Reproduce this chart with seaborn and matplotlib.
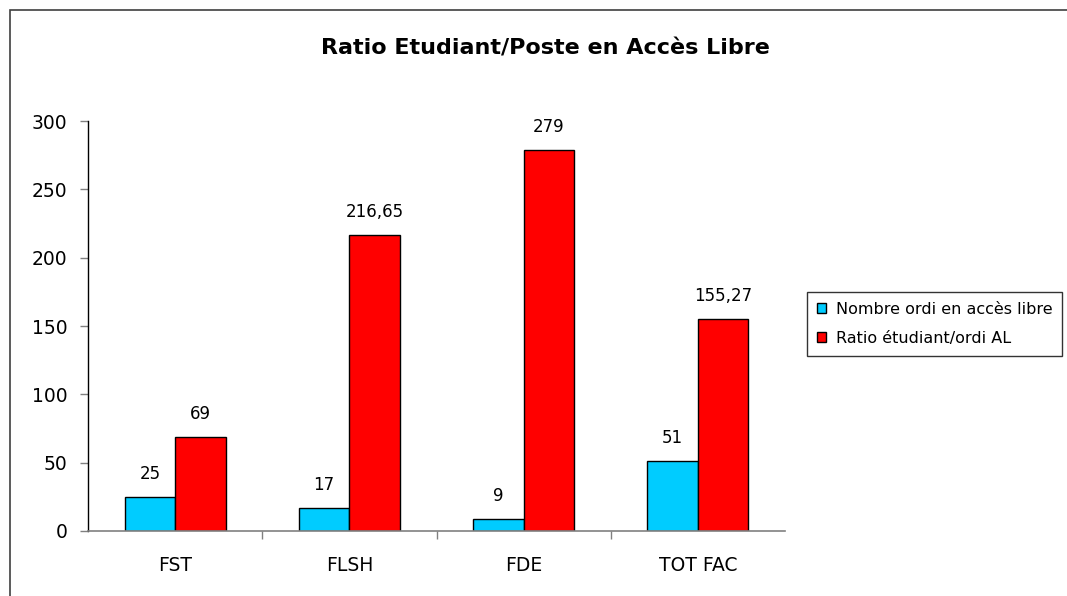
import pandas as pd
import matplotlib.pyplot as plt
import seaborn as sns
from matplotlib.patches import Rectangle

# Données
categories = ['FST', 'FLSH', 'FDE', 'TOT FAC']
nb_ordi = [25, 17, 9, 51]
ratio = [69, 216.65, 279, 155.27]
series = ['Nombre ordi en accès libre', 'Ratio étudiant/ordi AL']
labels_ordi = ['25', '17', '9', '51']
labels_ratio = ['69', '216,65', '279', '155,27']

df = pd.DataFrame({
    'Faculte': categories * 2,
    'Serie': [series[0]] * 4 + [series[1]] * 4,
    'Valeur': nb_ordi + ratio,
})

sns.set_style('white')
plt.rcParams['font.family'] = ['DejaVu Sans']
plt.rcParams['text.color'] = 'black'

fig = plt.figure(figsize=(10.67, 5.96), dpi=100)
ax = fig.add_axes([88 / 1067, 1 - 531 / 596, (785 - 88) / 1067, (531 - 121) / 596])

sns.barplot(data=df, x='Faculte', y='Valeur', hue='Serie', order=categories,
            hue_order=series, palette=['#00CCFF', '#FF0000'], width=0.58,
            edgecolor='black', linewidth=1, saturation=1, ax=ax)

for cont, labs in zip(ax.containers, [labels_ordi, labels_ratio]):
    ax.bar_label(cont, labels=labs, padding=10, fontsize=12, color='black')

ax.set_ylim(0, 300)
ax.set_yticks(range(0, 301, 50))
ax.set_xlim(-0.5, 3.5)
ax.set_xlabel('')
ax.set_ylabel('')
ax.tick_params(axis='y', labelsize=13.5, labelcolor='black', length=6, width=1,
               color='#808080', direction='out', left=True, pad=9)
ax.tick_params(axis='x', labelsize=13.5, labelcolor='black', length=0, pad=18)
# graduations entre les catégories
ax.set_xticks([0.5, 1.5, 2.5], minor=True)
ax.tick_params(axis='x', which='minor', length=6, width=1, color='#808080',
               direction='out', bottom=True)
for s in ['top', 'right']:
    ax.spines[s].set_visible(False)
ax.spines['left'].set_color('black')
ax.spines['bottom'].set_color('#808080')
ax.spines['left'].set_linewidth(1)
ax.spines['bottom'].set_linewidth(1.2)

leg = ax.legend(loc='upper left', bbox_to_anchor=(807 / 1067, 1 - 292 / 596),
                bbox_transform=fig.transFigure, fontsize=11.5, frameon=True,
                fancybox=False, edgecolor='black', handlelength=0.6, handleheight=0.6,
                handletextpad=0.6, borderpad=0.6, labelspacing=0.9, borderaxespad=0)
leg.get_frame().set_linewidth(1)
for t in leg.get_texts():
    t.set_color('black')

fig.text(545 / 1067, 1 - 48 / 596, 'Ratio Etudiant/Poste en Accès Libre',
         ha='center', va='center', fontsize=16, fontweight='bold', color='black')

# cadre du graphique
fig.patches.append(Rectangle((10 / 1067, -0.05), 1.1, 1 - 10 / 596 + 0.05,
                             transform=fig.transFigure, fill=False,
                             edgecolor='#404040', linewidth=1.2))

plt.savefig('out.png', dpi=100)
plt.close()
